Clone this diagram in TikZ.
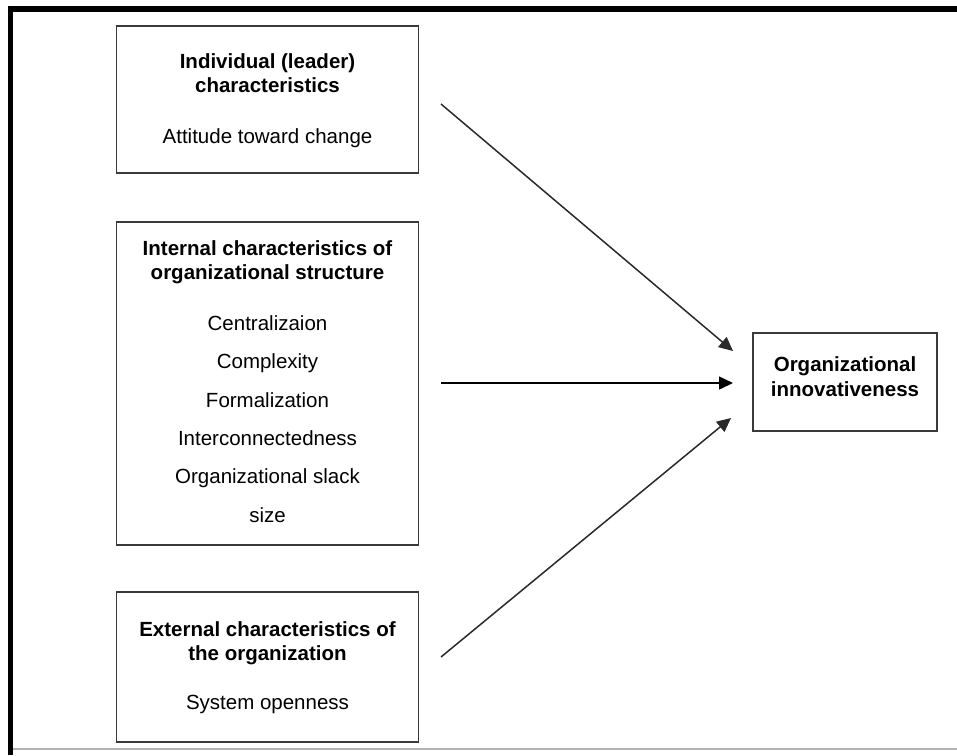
\documentclass[tikz,border=0pt]{standalone}
\usepackage{fontspec}
\setmainfont{Liberation Sans}
\usetikzlibrary{arrows.meta}
\definecolor{boxgray}{HTML}{3A3A3A}
\definecolor{arrgray}{HTML}{2A2A2A}
\begin{document}
\begin{tikzpicture}[x=1pt,y=-1pt,
  box/.style={draw=boxgray,line width=1.7pt,inner sep=0pt,fill=none},
  txt/.style={anchor=base,inner sep=0pt,font=\fontsize{20.5}{24}\selectfont,text=black},
  ttl/.style={txt,font=\fontsize{20.5}{24}\selectfont\bfseries},
  conn/.style={draw=arrgray,line width=1.5pt,-{Triangle[length=14pt,width=13pt]}}]
\useasboundingbox (0,0) rectangle (957,755);
\fill[white] (0,0) rectangle (957,755);
% frame
\draw[black,line width=6pt] (7.5,9) -- (957,9);
\draw[black,line width=5pt] (10.5,6) -- (10.5,755);
\draw[black!30,line width=2pt] (13,749) -- (957,749);
% boxes
\node[box,minimum width=302pt,minimum height=147pt] (b1) at (267.5,99.5) {};
\node[box,minimum width=302pt,minimum height=323pt] (b2) at (267.5,383.5) {};
\node[box,minimum width=302pt,minimum height=150pt] (b3) at (267.5,667) {};
\node[box,minimum width=184pt,minimum height=98pt] (b4) at (845,382) {};
% box 1 text
\node[ttl] (t1a) at (267.5,68) {Individual (leader)};
\node[ttl] (t1b) at (267.5,92) {characteristics};
\node[txt] (t1c) at (267.5,143) {Attitude toward change};
% box 2 text
\node[ttl] (t2a) at (267.5,255) {Internal characteristics of};
\node[ttl] (t2b) at (267.5,279) {organizational structure};
\node[txt] (t2c) at (267.5,330) {Centralizaion};
\node[txt] (t2d) at (267.5,368) {Complexity};
\node[txt] (t2e) at (267.5,407) {Formalization};
\node[txt] (t2f) at (267.5,445) {Interconnectedness};
\node[txt] (t2g) at (267.5,483) {Organizational slack};
\node[txt] (t2h) at (267.5,522) {size};
% box 3 text
\node[ttl] (t3a) at (267.5,636) {External characteristics of};
\node[ttl] (t3b) at (267.5,660) {the organization};
\node[txt] (t3c) at (267.5,709) {System openness};
% box 4 text
\node[ttl] (t4a) at (845,371) {Organizational};
\node[ttl] (t4b) at (845,396) {innovativeness};
% connectors
\coordinate (a1s) at (441,104);
\coordinate (a1e) at (733,351);
\coordinate (a2s) at (441,383);
\coordinate (a2e) at (733,383);
\coordinate (a3s) at (441,657);
\coordinate (a3e) at (731,418);
\draw[conn] (a1s) -- (a1e);
\draw[conn,draw=black] (a2s) -- (a2e);
\draw[conn] (a3s) -- (a3e);
\end{tikzpicture}
\end{document}
